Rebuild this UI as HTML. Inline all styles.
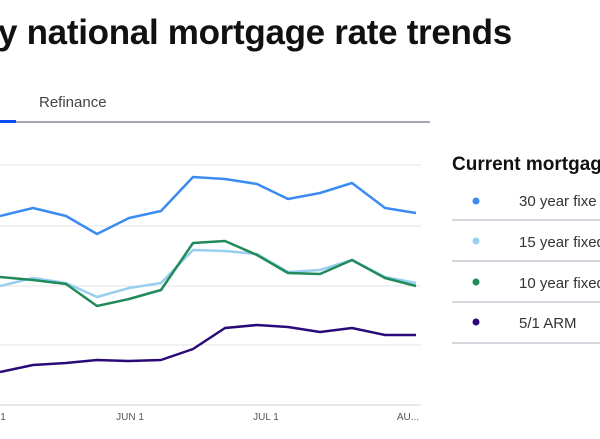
<!DOCTYPE html><html><head><style>
html,body{margin:0;width:600px;height:439px;overflow:hidden}
body{background:#fff;font-family:"Liberation Sans",sans-serif;position:relative}
.wrap{position:absolute;left:0;top:0;width:600px;height:439px;overflow:hidden}
.t{position:absolute;white-space:nowrap}
</style></head><body><div class="wrap">
<div class="t" style="left:-2px;top:13px;font-size:35px;font-weight:bold;color:#111;letter-spacing:-0.3px">y national mortgage rate trends</div>
<div class="t" style="left:39px;top:94px;font-size:15px;color:#444">Refinance</div>
<div style="position:absolute;left:0;top:121px;width:430px;height:2px;background:#a3a8b3"></div>
<div style="position:absolute;left:0;top:120px;width:16px;height:3px;background:#0a4af5"></div>
<svg width="600" height="439" style="position:absolute;left:0;top:0">
<g stroke="#e3e3e6" stroke-width="1"><line x1="0" x2="421" y1="165" y2="165"/><line x1="0" x2="421" y1="226" y2="226"/><line x1="0" x2="421" y1="286" y2="286"/><line x1="0" x2="421" y1="345" y2="345"/></g>
<line x1="0" x2="421" y1="405" y2="405" stroke="#ccd0dc"/>
<g fill="none" stroke-width="2.5" stroke-linejoin="round">
<polyline stroke="#3b8cf0" points="0,216 33,208 66,216 97,234 129,218 161,211 193,177 225,179 257,184 288,199 320,193 352,183 385,208 416,213"/>
<polyline stroke="#98cff0" points="0,286 33,278 66,283 97,297 129,288 161,283 193,250 225,251 257,254 288,272 320,270 352,260 385,277 416,283"/>
<polyline stroke="#218a5a" points="0,277 33,280 66,284 97,306 129,299 161,290 193,243 225,241 257,255 288,273 320,274 352,260 385,278 416,286"/>
<polyline stroke="#2a0a78" points="0,372 33,365 66,363 97,360 129,361 161,360 193,349 225,328 257,325 288,327 320,332 352,328 385,335 416,335"/>
</g>
<g font-size="10" fill="#555" font-family="Liberation Sans,sans-serif" text-anchor="middle">
<text x="3" y="420">1</text><text x="130" y="420">JUN 1</text><text x="266" y="420">JUL 1</text><text x="408" y="420">AU...</text></g>
<circle cx="476" cy="201" r="3.5" fill="#3b8cf0"/><circle cx="476" cy="241" r="3.5" fill="#98cff0"/><circle cx="476" cy="282" r="3.5" fill="#218a5a"/><circle cx="476" cy="322" r="3.5" fill="#2a0a78"/>
<g stroke="#a9b0bf"><line x1="452" x2="600" y1="220" y2="220"/><line x1="452" x2="600" y1="261" y2="261"/><line x1="452" x2="600" y1="302" y2="302"/><line x1="452" x2="600" y1="343" y2="343"/></g>
<text x="452" y="170" font-size="19" font-weight="bold" fill="#111" font-family="Liberation Sans,sans-serif">Current mortgag</text>
<g font-size="15" fill="#333" font-family="Liberation Sans,sans-serif">
<text x="519" y="206">30 year fixe</text><text x="519" y="247">15 year fixed</text><text x="519" y="288">10 year fixed</text><text x="519" y="328">5/1 ARM</text></g>
</svg>
</div></body></html>
